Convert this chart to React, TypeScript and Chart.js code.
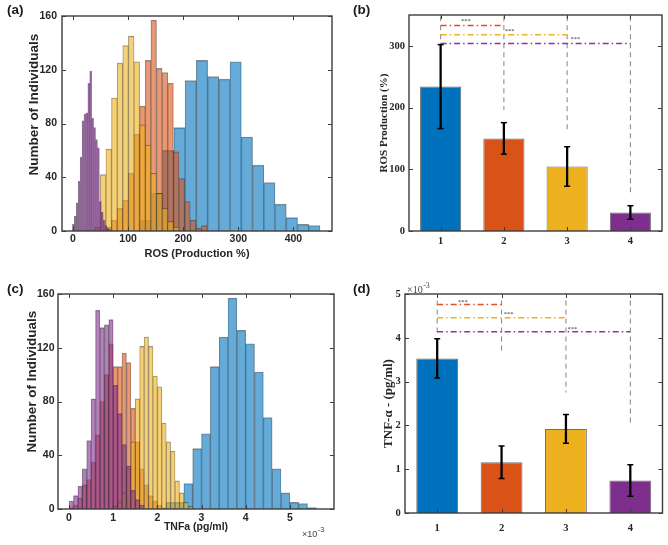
import { useEffect, useRef } from "react";
import { Chart, registerables } from "chart.js";

Chart.register(...registerables);

// ---------------- Panel (a): ROS histograms ----------------
const rosBlueBins = [132.0, 152.4, 172.8, 193.2, 213.6, 234.0, 254.4, 274.8, 295.2, 315.6, 336.0, 356.4, 376.8, 397.2, 417.6, 438.0];
const rosBlueCounts = [8, 28, 60, 77, 112, 127, 115, 113, 126, 70, 49, 36, 20, 10, 5, 4];
const rosOrangeBins = [64.8, 75.0, 85.2, 95.4, 105.6, 115.8, 126.0, 136.2, 146.4, 156.6, 166.8, 177.0, 187.2, 197.4, 207.6, 217.8, 228.0, 238.2];
const rosOrangeCounts = [3, 8, 17, 23, 43, 72, 93, 127, 157, 121, 118, 110, 59, 39, 22, 8, 2, 4];
const rosYellowBins = [44.4, 54.6, 64.8, 75.0, 85.2, 95.4, 105.6, 115.8, 126.0, 136.2, 146.4, 156.6, 166.8, 177.0, 187.2];
const rosYellowCounts = [3, 42, 61, 99, 125, 138, 145, 126, 79, 64, 43, 28, 17, 7, 3];
const rosPurpleBins = [0.6, 4.1, 7.6, 11.1, 14.6, 18.1, 21.6, 25.1, 28.6, 32.1, 35.6, 39.1, 42.6, 46.1, 49.6, 53.1, 56.6, 60.1, 63.6, 67.1];
const rosPurpleCounts = [5, 11, 21, 37, 55, 82, 87, 88, 110, 119, 84, 77, 68, 62, 22, 14, 8, 4, 2, 1];
const rosXTicks = [0, 100, 200, 300, 400];
const histYTicks = [0, 40, 80, 120, 160];

// ---------------- Panel (c): TNF-a histograms (x10^-3 pg/ml) ----------------
const tnfPurpleBins = [0.05, 0.15, 0.25, 0.35, 0.45, 0.55, 0.65, 0.75, 0.85, 0.95, 1.05, 1.15, 1.25, 1.35, 1.45, 1.55, 1.65];
const tnfPurpleCounts = [6, 10, 17, 30, 51, 82, 148, 135, 137, 141, 92, 71, 48, 32, 14, 7, 3];
const tnfOrangeBins = [0.05, 0.15, 0.25, 0.35, 0.45, 0.55, 0.65, 0.75, 0.85, 0.95, 1.05, 1.15, 1.25, 1.35, 1.45, 1.55, 1.65, 1.75, 1.85, 1.95, 2.05, 2.15];
const tnfOrangeCounts = [1, 3, 8, 18, 22, 35, 55, 80, 100, 123, 106, 106, 116, 109, 75, 50, 30, 18, 10, 6, 3, 1];
const tnfYellowBins = [1.05, 1.15, 1.25, 1.35, 1.45, 1.55, 1.65, 1.75, 1.85, 1.95, 2.05, 2.15, 2.25, 2.35, 2.45, 2.55, 2.65, 2.75];
const tnfYellowCounts = [2, 5, 12, 30, 50, 82, 121, 128, 121, 99, 91, 64, 50, 43, 21, 12, 5, 2];
const tnfBlueBins = [2.3, 2.5, 2.7, 2.9, 3.1, 3.3, 3.5, 3.7, 3.9, 4.1, 4.3, 4.5, 4.7, 4.9, 5.1, 5.3, 5.5];
const tnfBlueCounts = [5, 5, 19, 45, 56, 106, 128, 157, 133, 123, 102, 68, 30, 12, 5, 4, 1];
const tnfXTicks = [0, 1, 2, 3, 4, 5];

// ---------------- Panels (b) and (d): group bars ----------------
const groups = [1, 2, 3, 4];
const rosMeans = [234, 150, 104.5, 30];
const rosErrors = [68, 25.5, 32, 11];
const rosYTicks = [0, 100, 200, 300];
const rosYMax = 350;
const sigFrom = [1, 1, 1];
const sigTo = [2, 3, 4];
const rosSigY = [333, 318, 304];
const rosStarX = [1.4, 2.09, 3.13];
const rosStarY = [339, 324, 310];
const rosGuideTop = 348;
const rosGuideBottom = [304, 196, 160, 58];

const tnfMeans = [3.53, 1.16, 1.92, 0.74];
const tnfErrors = [0.45, 0.37, 0.33, 0.36];
const tnfYTicks = [0, 1, 2, 3, 4, 5];
const tnfYMax = 5;
const tnfSigY = [4.76, 4.46, 4.14];
const tnfStarX = [1.4, 2.11, 3.1];
const tnfStarY = [4.81, 4.53, 4.19];
const tnfGuideTop = 4.85;
const tnfGuideBottom = [4.12, 3.66, 2.75, 2.02];

// ---------------- Styles ----------------
const SANS = '"Liberation Sans", Arial, Helvetica, sans-serif';
const SERIF = '"Liberation Serif", "Times New Roman", Times, serif';
const INK = "#262626";
const FRAME = "#3c3c3c";
const RGB_BLUE = "0,114,189";
const RGB_ORANGE = "217,83,25";
const RGB_YELLOW = "237,177,32";
const RGB_PURPLE = "126,47,142";
const HIST_EDGE = "rgba(35,35,35,0.5)";
const BAR_COLORS = [`rgb(${RGB_BLUE})`, `rgb(${RGB_ORANGE})`, `rgb(${RGB_YELLOW})`, `rgb(${RGB_PURPLE})`];
const SIG_COLORS = ["rgb(225,80,30)", "rgb(237,177,32)", "rgb(140,50,165)"];

Chart.defaults.font.family = SANS;

const decorPlugin = {
  id: "decor",
  afterDatasetsDraw(chart: any, _args: any, o: any) {
    const { ctx, chartArea: a, scales } = chart;
    const xs = scales.x;
    const ys = scales.y;
    const L = 4;
    ctx.save();
    ctx.strokeStyle = FRAME;
    ctx.lineWidth = 1;
    ctx.beginPath();
    xs.ticks.forEach((t: any) => {
      const px = Math.round(xs.getPixelForValue(t.value)) + 0.5;
      ctx.moveTo(px, a.bottom);
      ctx.lineTo(px, a.bottom - L);
      ctx.moveTo(px, a.top);
      ctx.lineTo(px, a.top + L);
    });
    ys.ticks.forEach((t: any) => {
      const py = Math.round(ys.getPixelForValue(t.value)) + 0.5;
      ctx.moveTo(a.left, py);
      ctx.lineTo(a.left + L, py);
      ctx.moveTo(a.right, py);
      ctx.lineTo(a.right - L, py);
    });
    ctx.stroke();
    ctx.lineWidth = 1.4;
    ctx.strokeRect(a.left, a.top, a.right - a.left, a.bottom - a.top);

    if (o.stars) {
      const s = o.stars;
      ctx.fillStyle = "#333";
      ctx.font = s.font;
      ctx.textAlign = "center";
      ctx.textBaseline = "middle";
      s.xs.forEach((x: number, i: number) => {
        ctx.fillText(s.text, xs.getPixelForValue(x), ys.getPixelForValue(s.ys[i]));
      });
    }
    if (o.yTitle) {
      const t = o.yTitle;
      ctx.save();
      ctx.translate(t.x, t.y);
      ctx.rotate(-Math.PI / 2);
      ctx.fillStyle = INK;
      ctx.font = t.font;
      ctx.textAlign = "center";
      ctx.textBaseline = "middle";
      ctx.fillText(t.text, 0, 0);
      ctx.restore();
    }
    if (o.exponent) {
      const e = o.exponent;
      ctx.fillStyle = "#444";
      ctx.textAlign = "left";
      ctx.textBaseline = "alphabetic";
      ctx.font = e.font;
      ctx.fillText(e.base, e.x, e.y);
      const w = ctx.measureText(e.base).width;
      ctx.font = e.supFont;
      ctx.fillText(e.sup, e.x + w + 0.5, e.y - e.supDy);
    }
    ctx.restore();
  },
};

function histConfig(p: any) {
  const scales: any = {
    x: {
      type: "linear",
      axis: "x",
      position: "bottom",
      min: p.xMin,
      max: p.xMax,
      offset: false,
      afterBuildTicks: (s: any) => {
        s.ticks = p.xTicks.map((v: number) => ({ value: v }));
      },
      afterFit: (s: any) => {
        s.height = p.xBox;
      },
      grid: { display: false, drawTicks: false },
      border: { display: false },
      ticks: {
        autoSkip: false,
        maxRotation: 0,
        padding: p.xTickPad,
        color: INK,
        font: { family: SANS, size: 10.5, weight: "bold" },
        callback: (v: any) => `${v}`,
      },
      title: {
        display: true,
        text: p.xTitle,
        color: INK,
        font: { family: SANS, size: p.xTitleSize, weight: "bold" },
        padding: { top: 0, bottom: p.xTitlePad },
      },
    },
    y: {
      type: "linear",
      position: "left",
      min: 0,
      max: p.yTicks[p.yTicks.length - 1],
      afterBuildTicks: (s: any) => {
        s.ticks = p.yTicks.map((v: number) => ({ value: v }));
      },
      afterFit: (s: any) => {
        s.width = p.left;
      },
      grid: { display: false, drawTicks: false },
      border: { display: false },
      ticks: {
        padding: p.yTickPad,
        color: INK,
        font: { family: SANS, size: 10.5, weight: "bold" },
        callback: (v: any) => `${v}`,
      },
    },
  };
  p.series.forEach((_s: any, i: number) => {
    scales[`xh${i}`] = {
      type: "linear",
      axis: "x",
      display: false,
      min: p.xMin,
      max: p.xMax,
      offset: false,
      afterBuildTicks: (sc: any) => {
        sc.ticks = [{ value: p.xMin }];
      },
    };
  });
  return {
    type: "bar",
    data: {
      datasets: p.series.map((s: any, i: number) => ({
        type: "bar",
        label: s.label,
        data: s.bins.map((b: number, j: number) => ({ x: b, y: s.counts[j] })),
        xAxisID: `xh${i}`,
        yAxisID: "y",
        backgroundColor: `rgba(${s.rgb},0.6)`,
        borderColor: HIST_EDGE,
        borderWidth: { top: 0.8, left: 0.5, right: 0.5, bottom: 0 },
        borderSkipped: false,
        grouped: false,
        barPercentage: 1,
        categoryPercentage: 1,
        inflateAmount: 0.3,
        order: s.order,
      })),
    },
    options: {
      responsive: false,
      maintainAspectRatio: false,
      animation: false,
      layout: { padding: { left: 0, top: p.top, right: p.right, bottom: 0 } },
      scales,
      plugins: {
        legend: { display: false },
        tooltip: { enabled: false },
        decor: { yTitle: p.yTitle, exponent: p.exponent },
      },
    },
    plugins: [decorPlugin],
  };
}

function barPanelConfig(p: any) {
  const lo = p.means.map((m: number, i: number) => m - p.errors[i]);
  const hi = p.means.map((m: number, i: number) => m + p.errors[i]);
  const datasets: any[] = [
    {
      type: "bar",
      data: groups.map((g, i) => ({ x: g, y: p.means[i] })),
      backgroundColor: BAR_COLORS,
      borderColor: "rgba(95,95,95,0.9)",
      borderWidth: 1,
      barPercentage: 0.65,
      categoryPercentage: 1,
      grouped: false,
      inflateAmount: 0,
      order: 6,
    },
    {
      type: "bar",
      data: groups.map((g, i) => ({ x: g, y: [lo[i], hi[i]] })),
      backgroundColor: "#000",
      borderWidth: 0,
      barThickness: 1.6,
      grouped: false,
      order: 2,
    },
    {
      type: "line",
      data: groups.flatMap((g, i) => [
        { x: g, y: hi[i] },
        { x: g, y: lo[i] },
      ]),
      showLine: false,
      pointStyle: "line",
      pointRadius: 3,
      pointBorderWidth: 1.5,
      pointBorderColor: "#000",
      pointBackgroundColor: "#000",
      order: 1,
    },
    ...p.sigY.map((y: number, i: number) => ({
      type: "line",
      data: [
        { x: sigFrom[i], y },
        { x: sigTo[i], y },
      ],
      borderColor: SIG_COLORS[i],
      borderWidth: 1.5,
      borderDash: [6, 3, 1.5, 3],
      pointRadius: 0,
      order: 3,
    })),
    ...groups.map((g, i) => ({
      type: "line",
      data: [
        { x: g, y: p.guideTop },
        { x: g, y: p.guideBottom[i] },
      ],
      borderColor: "rgba(110,110,110,0.85)",
      borderWidth: 1,
      borderDash: [5, 4],
      pointRadius: 0,
      order: 4,
    })),
  ];
  return {
    type: "bar",
    data: { datasets },
    options: {
      responsive: false,
      maintainAspectRatio: false,
      animation: false,
      layout: { padding: { left: 0, top: p.top, right: p.right, bottom: 0 } },
      scales: {
        x: {
          type: "linear",
          position: "bottom",
          min: 0.5,
          max: 4.5,
          offset: false,
          afterBuildTicks: (s: any) => {
            s.ticks = groups.map((v) => ({ value: v }));
          },
          afterFit: (s: any) => {
            s.height = p.xBox;
          },
          grid: { display: false, drawTicks: false },
          border: { display: false },
          ticks: {
            autoSkip: false,
            maxRotation: 0,
            padding: p.xTickPad,
            color: INK,
            font: { family: SERIF, size: 10.5, weight: "bold" },
            callback: (v: any) => `${v}`,
          },
        },
        y: {
          type: "linear",
          position: "left",
          min: 0,
          max: p.yMax,
          afterBuildTicks: (s: any) => {
            s.ticks = p.yTicks.map((v: number) => ({ value: v }));
          },
          afterFit: (s: any) => {
            s.width = p.left;
          },
          grid: { display: false, drawTicks: false },
          border: { display: false },
          ticks: {
            padding: p.yTickPad,
            color: INK,
            font: { family: SERIF, size: 10.5, weight: "bold" },
            callback: (v: any) => `${v}`,
          },
          title: {
            display: true,
            text: p.yTitle,
            color: INK,
            font: { family: SERIF, size: p.yTitleSize, weight: "bold" },
            padding: { top: p.yTitlePad, bottom: 0 },
          },
        },
      },
      plugins: {
        legend: { display: false },
        tooltip: { enabled: false },
        decor: {
          stars: { xs: p.starX, ys: p.starY, text: "***", font: `6.5px ${SERIF}` },
          exponent: p.exponent,
        },
      },
    },
    plugins: [decorPlugin],
  };
}

const makePanelA = () =>
  histConfig({
    series: [
      { label: "1", bins: rosBlueBins, counts: rosBlueCounts, rgb: RGB_BLUE, order: 4 },
      { label: "2", bins: rosOrangeBins, counts: rosOrangeCounts, rgb: RGB_ORANGE, order: 3 },
      { label: "3", bins: rosYellowBins, counts: rosYellowCounts, rgb: RGB_YELLOW, order: 2 },
      { label: "4", bins: rosPurpleBins, counts: rosPurpleCounts, rgb: RGB_PURPLE, order: 1 },
    ],
    xMin: -20,
    xMax: 470,
    xTicks: rosXTicks,
    yTicks: histYTicks,
    xTitle: "ROS (Production %)",
    xTitleSize: 11,
    xTitlePad: 9.4,
    xTickPad: 2,
    yTickPad: 5,
    left: 62,
    top: 16,
    right: 8,
    xBox: 39,
    yTitle: { text: "Number of Individuals", x: 34.5, y: 104.5, font: `bold 13.5px ${SANS}` },
  });

const makePanelC = () =>
  histConfig({
    series: [
      { label: "1", bins: tnfBlueBins, counts: tnfBlueCounts, rgb: RGB_BLUE, order: 4 },
      { label: "2", bins: tnfOrangeBins, counts: tnfOrangeCounts, rgb: RGB_ORANGE, order: 3 },
      { label: "3", bins: tnfYellowBins, counts: tnfYellowCounts, rgb: RGB_YELLOW, order: 2 },
      { label: "4", bins: tnfPurpleBins, counts: tnfPurpleCounts, rgb: RGB_PURPLE, order: 1 },
    ],
    xMin: -0.25,
    xMax: 6.0,
    xTicks: tnfXTicks,
    yTicks: histYTicks,
    xTitle: "TNFa (pg/ml)",
    xTitleSize: 10.5,
    xTitlePad: 12,
    xTickPad: 2.7,
    yTickPad: 3.5,
    left: 58,
    top: 24,
    right: 6,
    xBox: 36,
    yTitle: { text: "Number of Individuals", x: 32.5, y: 111.7, font: `bold 13.5px ${SANS}` },
    exponent: { base: "\u00d710", sup: "-3", x: 302, y: 266.5, font: `9px ${SANS}`, supFont: `7.5px ${SANS}`, supDy: 4.5 },
  });

const makePanelB = () =>
  barPanelConfig({
    means: rosMeans,
    errors: rosErrors,
    yTicks: rosYTicks,
    yMax: rosYMax,
    sigY: rosSigY,
    starX: rosStarX,
    starY: rosStarY,
    guideTop: rosGuideTop,
    guideBottom: rosGuideBottom,
    yTitle: "ROS Production (%)",
    yTitleSize: 11,
    yTitlePad: 37.7,
    yTickPad: 4,
    xTickPad: 4.1,
    left: 69,
    top: 15,
    right: 6,
    xBox: 39,
  });

const makePanelD = () =>
  barPanelConfig({
    means: tnfMeans,
    errors: tnfErrors,
    yTicks: tnfYTicks,
    yMax: tnfYMax,
    sigY: tnfSigY,
    starX: tnfStarX,
    starY: tnfStarY,
    guideTop: tnfGuideTop,
    guideBottom: tnfGuideBottom,
    yTitle: "TNF-\u03b1 - (pg/ml)",
    yTitleSize: 13,
    yTitlePad: 40.9,
    yTickPad: 4.3,
    xTickPad: 8.7,
    left: 65,
    top: 24,
    right: 5,
    xBox: 32,
    exponent: { base: "\u00d710", sup: "-3", x: 67, y: 22.5, font: `10px ${SERIF}`, supFont: `8px ${SERIF}`, supDy: 4.5 },
  });

function ChartBox({ left, top, width, height, make }: { left: number; top: number; width: number; height: number; make: () => any }) {
  const ref = useRef<HTMLCanvasElement | null>(null);
  useEffect(() => {
    if (!ref.current) return;
    const chart = new Chart(ref.current, make());
    return () => chart.destroy();
  }, []);
  return (
    <canvas
      ref={ref}
      width={width}
      height={height}
      style={{ position: "absolute", left, top, width, height, display: "block" }}
    />
  );
}

function PanelLabel({ left, top, text }: { left: number; top: number; text: string }) {
  return (
    <div
      style={{
        position: "absolute",
        left,
        top,
        font: `bold 13.5px ${SANS}`,
        lineHeight: "14px",
        color: "#1a1a1a",
        whiteSpace: "nowrap",
      }}
    >
      {text}
    </div>
  );
}

export default function App() {
  return (
    <div style={{ position: "absolute", left: 0, top: 0, width: 668, height: 545, background: "#fff", overflow: "hidden" }}>
      <ChartBox left={0} top={0} width={340} height={270} make={makePanelA} />
      <ChartBox left={340} top={0} width={328} height={270} make={makePanelB} />
      <ChartBox left={0} top={270} width={340} height={275} make={makePanelC} />
      <ChartBox left={340} top={270} width={328} height={275} make={makePanelD} />
      <PanelLabel left={7} top={3} text="(a)" />
      <PanelLabel left={353} top={3} text="(b)" />
      <PanelLabel left={7} top={281.5} text="(c)" />
      <PanelLabel left={353} top={281.5} text="(d)" />
    </div>
  );
}
